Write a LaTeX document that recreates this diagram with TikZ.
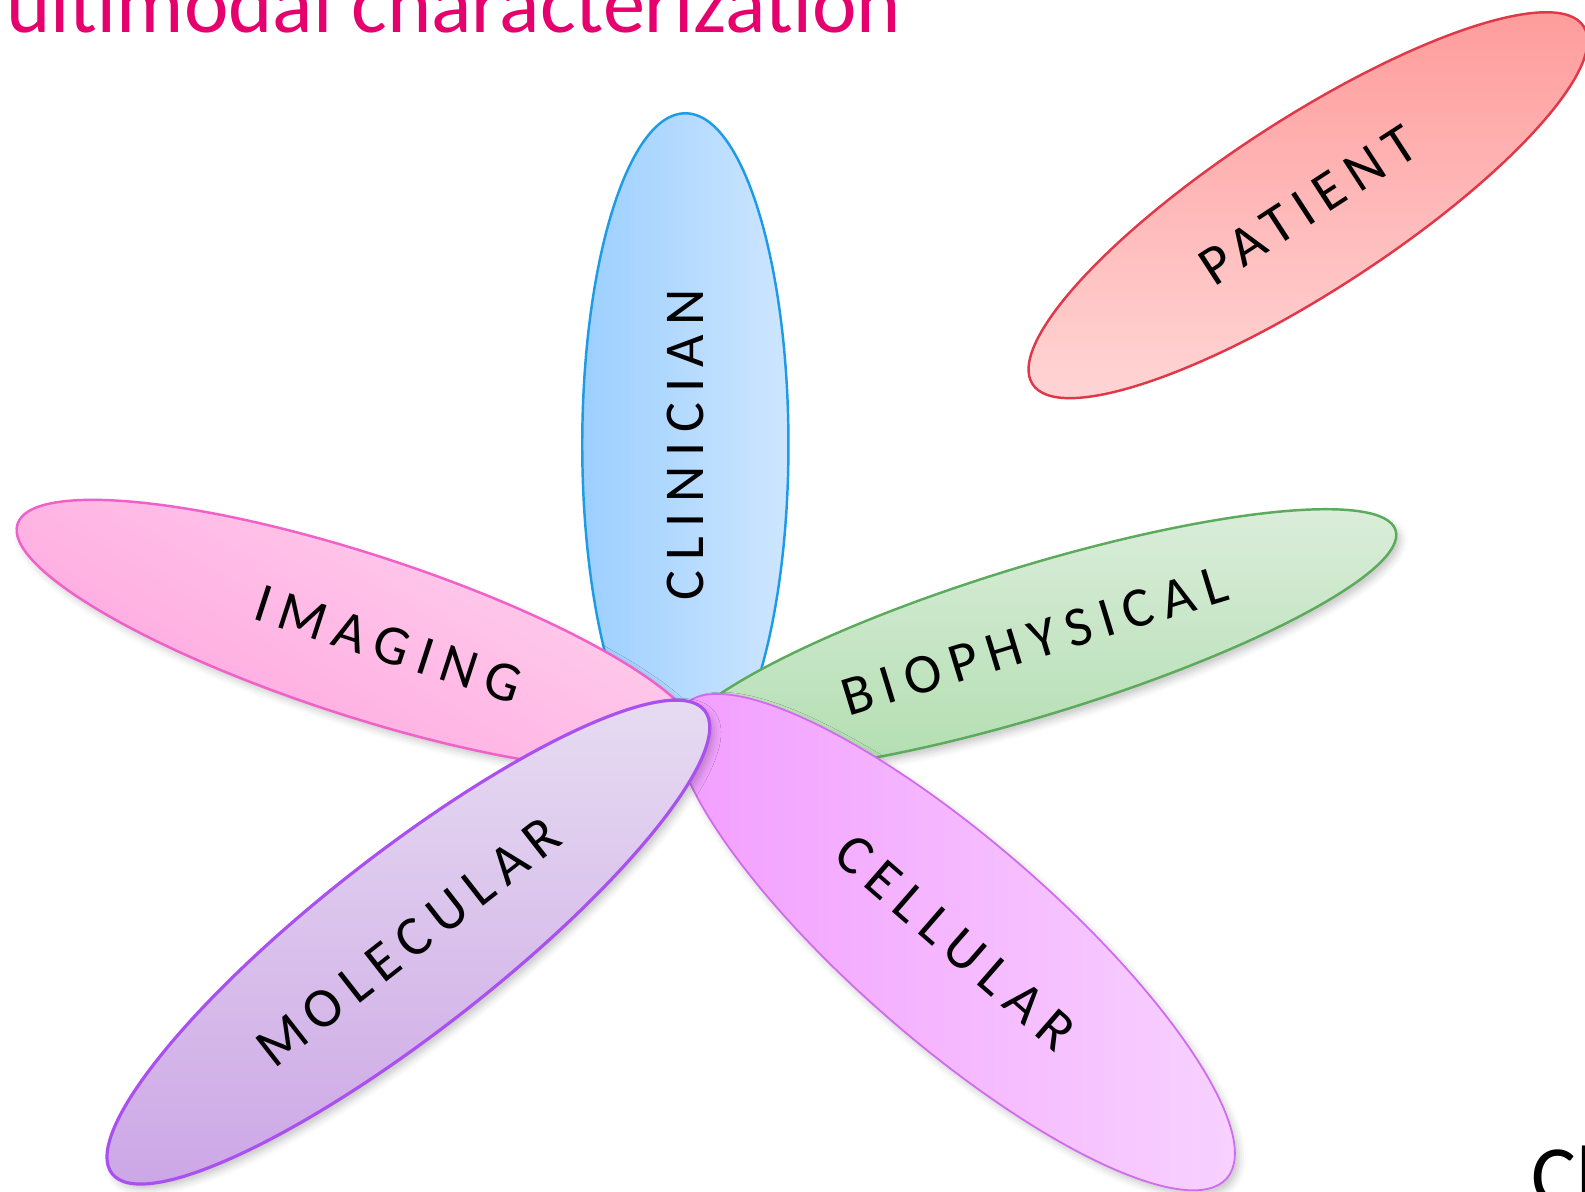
\documentclass[tikz,border=0pt]{standalone}
\usepackage{fontspec}
\setmainfont{Carlito}
\usetikzlibrary{shapes.geometric,shadows.blur}

\definecolor{titlepink}{HTML}{E5006E}
\definecolor{clinline}{HTML}{1E9BE6}
\definecolor{clindark}{HTML}{9CCFFF}
\definecolor{clinlight}{HTML}{CEE6FF}
\definecolor{imgline}{HTML}{F060C8}
\definecolor{imgdark}{HTML}{FFA3DE}
\definecolor{imglight}{HTML}{FFD3EE}
\definecolor{bioline}{HTML}{5CAA5C}
\definecolor{biodark}{HTML}{B2DEB0}
\definecolor{biolight}{HTML}{DDEEDD}
\definecolor{celline}{HTML}{D06AEE}
\definecolor{celdark}{HTML}{F29CFF}
\definecolor{cellight}{HTML}{F8D4FF}
\definecolor{molline}{HTML}{AA50F0}
\definecolor{moldark}{HTML}{CDA8E6}
\definecolor{mollight}{HTML}{E8DEF2}
\definecolor{patline}{HTML}{E03848}
\definecolor{patdark}{HTML}{FF9898}
\definecolor{patlight}{HTML}{FFD3D3}

\tikzset{
  petal/.style={ellipse, draw, inner sep=0pt, line width=0.7pt,
    font=\fontsize{16}{16}\selectfont\addfontfeature{LetterSpace=18}},
  petalsize/.style 2 args={minimum width=#1*0.01011cm, minimum height=#2*0.01011cm},
  soft/.style={blur shadow={shadow xshift=1.2pt, shadow yshift=-1.5pt,
    shadow blur radius=2pt, shadow opacity=22}},
}

\begin{document}
\begin{tikzpicture}[x=0.01011cm, y=-0.01011cm]
  \useasboundingbox (0,0) rectangle (1568,1179);

  % title and corner text, both cut by the page
  \node[anchor=base east, text=titlepink, font=\fontsize{24}{24}\selectfont, inner sep=0pt]
    (title) at (892,32) {Multimodal characterization};
  \node[anchor=base west, font=\fontsize{24}{24}\selectfont, inner sep=0pt]
    (corner) at (1514,1192) {Ch};

  \node[petal, petalsize={650}{170}, rotate=33, draw=patline,
        top color=patdark, bottom color=patlight] (patient) at (1294,203) {PATIENT};

  % the flower, back to front
  \node[petal, petalsize={656}{204}, rotate=90, draw=clinline,
        left color=clindark, right color=clinlight] (clinician) at (678,440) {CLINICIAN};
  \node[petal, soft, petalsize={710}{160}, rotate=-18, draw=imgline,
        top color=imglight, bottom color=imgdark, shading angle=-30] (imaging) at (355,628) {\hspace*{1.1em}IMAGING};
  \node[petal, soft, petalsize={748}{148}, rotate=17, draw=bioline,
        top color=biolight, bottom color=biodark] (biophysical) at (1023,634) {BIOPHYSICAL};
  \node[petal, soft, petalsize={712}{200}, rotate=-41, draw=celline, line width=0.5pt,
        left color=celdark, right color=cellight] (cellular) at (945,932) {CELLULAR};
  \node[petal, soft, petalsize={744}{176}, rotate=38, draw=molline, line width=0.9pt,
        top color=mollight, bottom color=moldark] (molecular) at (404,932) {MOLECULAR};
\end{tikzpicture}
\end{document}
